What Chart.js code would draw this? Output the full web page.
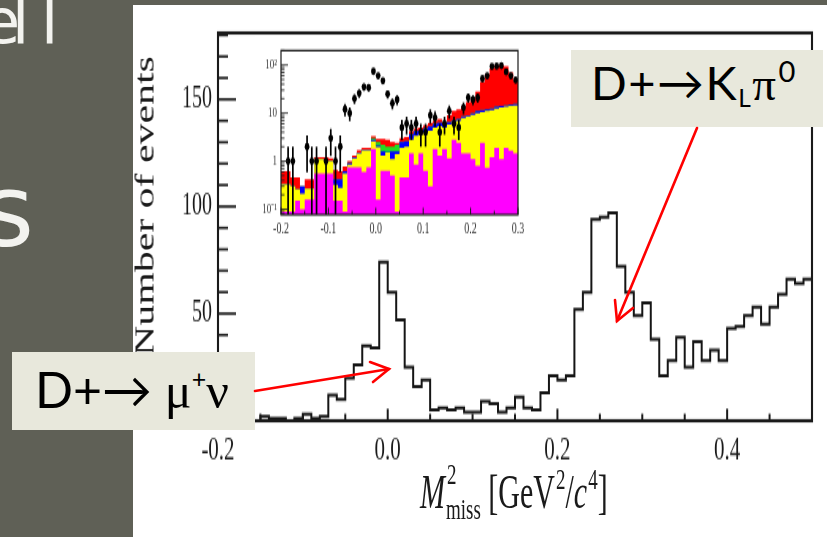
<!DOCTYPE html>
<html>
<head>
<meta charset="utf-8">
<script src="https://cdn.jsdelivr.net/npm/chart.js@4.4.1/dist/chart.umd.min.js"></script>
<style>
  html, body { margin: 0; padding: 0; }
  body {
    width: 827px; height: 537px; position: relative; overflow: hidden;
    background: #5f6056; font-family: 'Liberation Serif', serif;
  }
  .slide-word { position: absolute; color: #f3f3ef; font-family: 'DejaVu Sans', sans-serif; line-height: 1; }
  #sheet { position: absolute; left: 133px; top: 5px; width: 694px; height: 532px; background: #fff; }
  #mainChart { position: absolute; left: 133px; top: 5px; }
  #insetChart { position: absolute; left: 255px; top: 36px; background: #fff; }
  #yTitle {
    position: absolute; left: 145px; top: 206px; font-size: 27px; line-height: 1; color: #1a1a1a;
    white-space: nowrap; transform: translate(-50%, -50%) rotate(-90deg) scaleX(1.55);
  }
  #xTitle {
    position: absolute; left: 420px; top: 468px; font-size: 30px; line-height: 1; color: #1a1a1a;
    white-space: nowrap; transform: scaleY(1.6); transform-origin: left top;
  }
  #xTitle .stack { font-size: 19px; position: relative; top: 7px; margin-left: 1px; }
  #xTitle .stack .hi { position: absolute; left: 1px; top: -21px; }
  #xTitle .up { font-size: 19px; position: relative; top: -12px; margin-left: 1px; }
  .tag {
    position: absolute; background: #e8e8dc; color: #000; white-space: nowrap;
    font-family: Lato, 'Noto Sans', sans-serif; line-height: 1;
  }
  .tag .txt { position: absolute; }
  .tag .gr { font-family: 'Liberation Serif', serif; }
  .tag .sup { position: relative; font-size: 0.5em; top: -0.8em; }
  .tag .sup0 { position: relative; font-size: 0.62em; top: -0.62em; margin-left: 1px; }
  .tag .sub { position: relative; font-size: 0.52em; top: 0.3em; }
  #arrows { position: absolute; left: 0; top: 0; }
</style>
</head>
<body>
<div class="slide-word" style="left:-18px; top:-9px; font-size:62px;">e</div>
<div class="slide-word" style="left:12px; top:-9px; font-size:62px;">l</div>
<div class="slide-word" style="left:41px; top:-9px; font-size:62px;">l</div>
<div class="slide-word" style="left:-18px; top:162px; font-size:100px;">s</div>

<div id="sheet"></div>
<canvas id="mainChart" width="694" height="343" style="width:694px;height:532px"></canvas>
<canvas id="insetChart" width="275" height="130" style="width:275px;height:202px"></canvas>

<div id="yTitle">Number of events</div>
<div id="xTitle"><i>M</i><span class="stack"><span class="hi">2</span>miss</span> [GeV<span class="up">2</span>/<i>c</i><span class="up">4</span>]</div>

<div class="tag" style="left:12px; top:352px; width:243px; height:78px;">
  <span class="txt" style="left:23px; top:12px; font-size:50px;">D+→ <span class="gr">μ</span><span class="sup">+</span><span class="gr">ν</span></span>
</div>
<div class="tag" style="left:571px; top:50px; width:252px; height:77px;">
  <span class="txt" style="left:20px; top:9px; font-size:47px; letter-spacing:1.5px;">D+→K<span class="sub">L</span><span class="gr">π</span><span class="sup0">0</span></span>
</div>

<svg id="arrows" width="827" height="537">
  <g stroke="#ff0000" stroke-width="2.6" fill="none" stroke-linecap="round">
    <line x1="255" y1="391" x2="389" y2="369"/>
    <polyline points="370,362 389,369 373,382"/>
    <line x1="697" y1="128" x2="617" y2="321"/>
    <polyline points="615,300 617,321 633,308"/>
  </g>
</svg>

<script>
// histogram binning shared by the main plot and the inset
const binLow = -0.2;
const binWidth = 0.01;

// events per 0.01 GeV^2/c^4 bin, from -0.2 to 0.5
const mainCounts = [
  0, 1, 1, 0, 0, 2, 1, 1, 0, 1,
  3, 1, 2, 12, 10, 20, 26, 35, 34, 74,
  60, 47, 25, 16, 19, 5, 6, 5, 6, 4,
  4, 9, 8, 4, 6, 11, 6, 5, 13, 21,
  19, 21, 52, 60, 94, 95, 97, 72, 60, 49,
  55, 38, 21, 28, 39, 25, 37, 28, 33, 28,
  43, 44, 49, 53, 45, 53, 59, 66, 64, 66
];

// inset (-0.2 to 0.3, log scale): top edge of each stacked MC component
const insetMagenta = [
  0.09, 0.09, 0.09, 0.15, 0.10, 0.16, 0.16, 0.55, 0.55, 0.55,
  0.55, 0.15, 0.15, 0.09, 0.75, 0.75, 0.75, 0.60, 0.75, 1.80,
  0.16, 0.63, 0.63, 0.50, 0.09, 0.46, 0.46, 1.45, 0.85, 1.45,
  0.63, 0.30, 1.80, 1.30, 1.80, 1.15, 2.80, 2.40, 1.45, 1.45,
  1.10, 0.80, 2.40, 0.73, 1.20, 1.90, 1.10, 1.90, 1.65, 1.45
];
const insetYellow = [
  0.33, 0.33, 0.30, 0.26, 0.21, 0.27, 0.27, 1.10, 1.10, 1.05,
  1.00, 0.32, 0.28, 0.55, 0.85, 1.15, 1.45, 1.70, 1.70, 2.60,
  1.95, 1.30, 1.50, 1.10, 1.40, 1.90, 2.00, 2.80, 3.40, 3.60,
  4.00, 4.30, 5.00, 5.40, 5.00, 5.80, 6.50, 7.00, 8.00, 8.50,
  9.20, 10.0, 10.5, 11.0, 11.5, 12.5, 13.0, 13.5, 14.0, 14.5
];
const insetBlue = [
  0.33, 0.33, 0.30, 0.26, 0.30, 0.27, 0.27, 1.10, 1.10, 1.05,
  1.00, 0.42, 0.42, 0.62, 0.92, 1.20, 1.50, 1.75, 1.75, 2.80,
  2.10, 1.60, 1.55, 1.60, 1.60, 2.50, 2.60, 3.60, 4.20, 4.40,
  4.80, 5.30, 6.00, 6.30, 5.80, 6.50, 7.00, 7.50, 8.50, 9.00,
  10.0, 11.0, 11.5, 12.0, 12.5, 13.5, 14.0, 14.5, 15.0, 15.5
];
const insetGreen = [
  0.33, 0.33, 0.30, 0.26, 0.30, 0.27, 0.27, 1.10, 1.10, 1.05,
  1.00, 0.42, 0.42, 0.62, 0.92, 1.20, 1.50, 1.75, 1.75, 3.00,
  2.50, 2.20, 2.00, 2.00, 2.20, 2.50, 2.60, 3.60, 4.20, 4.40,
  4.80, 5.30, 6.00, 6.30, 5.80, 6.50, 7.00, 7.50, 8.50, 9.00,
  10.0, 11.0, 11.5, 12.0, 12.5, 13.5, 14.0, 14.5, 15.0, 15.5
];
const insetRed = [
  0.62, 0.62, 0.46, 0.46, 0.30, 0.42, 0.42, 1.20, 1.20, 1.20,
  1.15, 0.66, 0.62, 0.78, 1.00, 1.30, 1.70, 1.90, 1.90, 3.30,
  2.90, 2.90, 2.80, 2.50, 2.40, 3.00, 3.20, 4.20, 4.80, 5.00,
  5.60, 6.20, 7.00, 7.50, 6.50, 9.00, 11.0, 12.0, 14.0, 17.0,
  20.0, 28.0, 45.0, 65.0, 85.0, 100, 100, 95.0, 70.0, 48.0
];

// decade labels on the inset's log axis
const decadeLabels = { '-1': '10⁻¹', '0': '1', '1': '10', '2': '10²' };

Chart.defaults.font.family = "'Liberation Serif', serif";
Chart.defaults.color = '#1a1a1a';

// points at the left edge of every bin, plus the closing right edge
function stepPoints(values) {
  const pts = values.map((v, k) => ({ x: binLow + binWidth * k, y: v }));
  pts.push({ x: binLow + binWidth * values.length, y: values[values.length - 1] });
  return pts;
}

// ROOT-like box with tick marks pointing into the plot
function rootFrame(cfg) {
  return {
    id: 'rootFrame',
    afterDatasetsDraw(chart) {
      const { ctx, chartArea: a, scales } = chart;
      ctx.save();
      ctx.strokeStyle = '#1a1a1a';
      ctx.lineWidth = cfg.xTickWidth;
      cfg.xTicks.forEach(t => {
        const px = scales.x.getPixelForValue(t.value);
        ctx.beginPath();
        ctx.moveTo(px, a.bottom);
        ctx.lineTo(px, a.bottom - t.len);
        ctx.stroke();
      });
      ctx.lineWidth = cfg.yTickWidth;
      cfg.yTicks.forEach(t => {
        const py = scales.y.getPixelForValue(t.value);
        ctx.beginPath();
        ctx.moveTo(a.left, py);
        ctx.lineTo(a.left + t.len, py);
        ctx.stroke();
      });
      ctx.lineWidth = cfg.frameWidth;
      ctx.strokeRect(a.left, a.top, a.right - a.left, a.bottom - a.top);
      ctx.restore();
    }
  };
}

// vertical sqrt(N) error bars on the data points of the inset
const poissonBars = {
  id: 'poissonBars',
  afterDatasetsDraw(chart) {
    const { ctx, chartArea: a, scales: { x, y } } = chart;
    ctx.save();
    ctx.beginPath();
    ctx.rect(a.left, a.top, a.right - a.left, a.bottom - a.top);
    ctx.clip();
    ctx.strokeStyle = '#000';
    ctx.lineWidth = 1.7;
    chart.data.datasets[0].data.forEach(p => {
      const err = Math.sqrt(p.y);
      const px = x.getPixelForValue(p.x);
      ctx.beginPath();
      ctx.moveTo(px, y.getPixelForValue(Math.max(p.y - err, y.min)));
      ctx.lineTo(px, y.getPixelForValue(p.y + err));
      ctx.stroke();
    });
    ctx.restore();
  }
};

const noGrid = { display: false, drawTicks: false };

// ---- main histogram ----
const mainXTicks = [];
for (let i = 0; i <= 14; i++) {
  mainXTicks.push({ value: binLow + 0.05 * i, len: i % 4 === 0 ? 7.7 : 4.5 });
}
const mainYTicks = [];
for (let v = 10; v <= 180; v += 10) {
  mainYTicks.push({ value: v, len: v % 50 === 0 ? 18 : 10 });
}

new Chart(document.getElementById('mainChart'), {
  type: 'line',
  data: {
    datasets: [{
      data: stepPoints(mainCounts),
      stepped: true,
      borderColor: '#151515',
      borderWidth: 2,
      pointRadius: 0,
      fill: false
    }]
  },
  options: {
    responsive: false,
    animation: false,
    devicePixelRatio: 1,
    layout: { padding: { top: 18, right: 15, left: 0, bottom: 0 } },
    plugins: { legend: { display: false }, tooltip: { enabled: false } },
    scales: {
      x: {
        type: 'linear', min: -0.2, max: 0.5,
        grid: noGrid, border: { display: false },
        ticks: {
          stepSize: 0.2, includeBounds: false, autoSkip: false, maxRotation: 0,
          padding: 7, font: { size: 21 },
          callback: v => Math.abs(v) < 1e-9 ? '0.0' : v.toFixed(1)
        },
        afterFit: s => { s.height = 75; }
      },
      y: {
        min: 0, max: 181,
        grid: noGrid, border: { display: false },
        ticks: {
          stepSize: 50, includeBounds: false, autoSkip: false,
          padding: 6, font: { size: 20 },
          callback: v => v === 0 ? '' : v
        },
        afterFit: s => { s.width = 85; }
      }
    }
  },
  plugins: [rootFrame({ xTicks: mainXTicks, yTicks: mainYTicks, xTickWidth: 2, yTickWidth: 1.6, frameWidth: 2.1 })]
});

// ---- inset: log-scale data over the stacked MC ----
const insetMin = 0.077;
const insetMax = 200;
const insetXTicks = [];
for (let i = 0; i <= 10; i++) {
  insetXTicks.push({ value: binLow + 0.05 * i, len: i % 2 === 0 ? 4.5 : 2.5 });
}
const insetYTicks = [];
for (let e = -2; e <= 2; e++) {
  for (let m = 1; m <= 9; m++) {
    const v = m * Math.pow(10, e);
    if (v >= insetMin && v <= insetMax) insetYTicks.push({ value: v, len: m === 1 ? 7 : 3.5 });
  }
}

const insetPoints = mainCounts.slice(0, insetRed.length)
  .map((c, k) => ({ x: binLow + binWidth * (k + 0.5), y: c }))
  .filter(p => p.y > 0);

function layer(values, color, order) {
  return {
    data: stepPoints(values),
    stepped: true,
    showLine: false,
    pointRadius: 0,
    fill: 'start',
    backgroundColor: color,
    order: order
  };
}

new Chart(document.getElementById('insetChart'), {
  type: 'line',
  data: {
    datasets: [
      {
        data: insetPoints,
        showLine: false,
        pointRadius: 2.4,
        pointBorderWidth: 0,
        pointBackgroundColor: '#000',
        order: 0
      },
      layer(insetMagenta, '#ff00ff', 1),
      layer(insetYellow, '#ffff00', 2),
      layer(insetBlue, '#0000ff', 3),
      layer(insetGreen, '#22dd22', 4),
      layer(insetRed, '#ff0000', 5)
    ]
  },
  options: {
    responsive: false,
    animation: false,
    devicePixelRatio: 1,
    layout: { padding: { top: 3, right: 12, left: 0, bottom: 0 } },
    plugins: { legend: { display: false }, tooltip: { enabled: false } },
    scales: {
      x: {
        type: 'linear', min: -0.2, max: 0.3,
        grid: noGrid, border: { display: false },
        ticks: {
          stepSize: 0.1, autoSkip: false, maxRotation: 0, padding: 3,
          font: { size: 10 }, color: '#333',
          callback: v => Math.abs(v) < 1e-9 ? '0.0' : v.toFixed(1)
        },
        afterFit: s => { s.height = 15; }
      },
      y: {
        type: 'logarithmic', min: insetMin, max: insetMax,
        grid: noGrid, border: { display: false },
        ticks: {
          autoSkip: false, padding: 4, font: { size: 9 }, color: '#333',
          callback: v => {
            const e = Math.log10(v);
            return Math.abs(e - Math.round(e)) < 1e-6 ? (decadeLabels[Math.round(e)] || '') : '';
          }
        },
        afterFit: s => { s.width = 26; }
      }
    }
  },
  plugins: [
    poissonBars,
    rootFrame({ xTicks: insetXTicks, yTicks: insetYTicks, xTickWidth: 1, yTickWidth: 0.8, frameWidth: 1.2 })
  ]
});
</script>
</body>
</html>
